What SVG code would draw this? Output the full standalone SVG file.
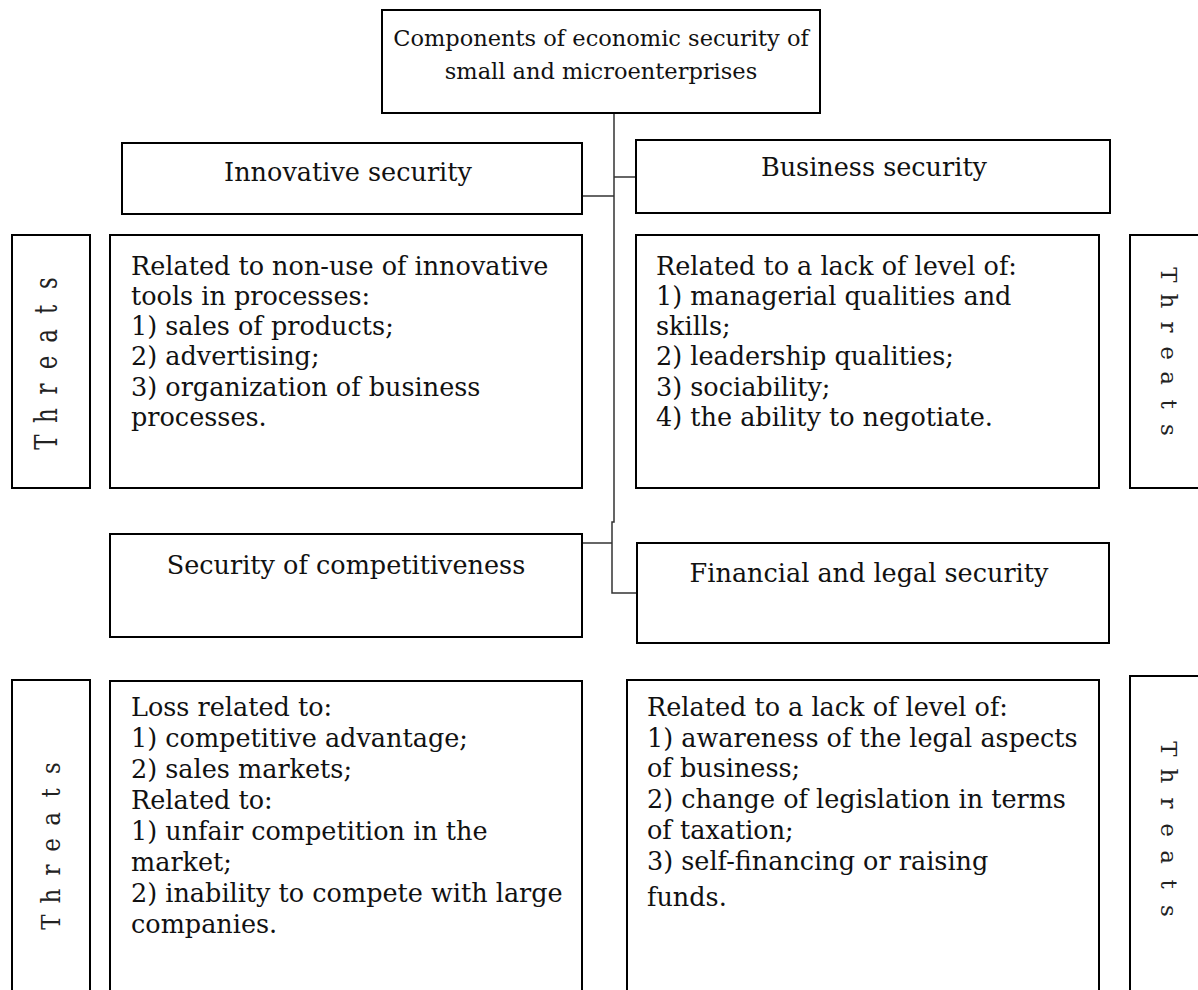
<svg xmlns="http://www.w3.org/2000/svg" width="1198" height="990" viewBox="0 0 1198 990">
<style>
.box{fill:#fff;stroke:#000;stroke-width:2}
.t{font-family:"DejaVu Serif","Liberation Serif",serif;font-size:25.5px;fill:#111}
.ti{font-family:"DejaVu Serif","Liberation Serif",serif;font-size:22.5px;fill:#111;text-anchor:middle}
.c{text-anchor:middle}
.th{font-family:"DejaVu Serif","Liberation Serif",serif;font-size:23px;fill:#222;text-anchor:middle}
.ln{stroke:#333;stroke-width:1.5;fill:none}
</style>
<rect width="1198" height="990" fill="#fff"/>
<g id="connectors">
<polyline class="ln" points="614,113 614,522 612,522 612,593 637,593"/>
<line class="ln" x1="614" y1="177" x2="637" y2="177"/>
<line class="ln" x1="582" y1="196" x2="614" y2="196"/>
<line class="ln" x1="582" y1="543" x2="612" y2="543"/>
</g>
<g id="root">
<rect class="box" x="382" y="10" width="438" height="103"/>
<text class="ti" x="601" y="46">Components of economic security of</text>
<text class="ti" x="601" y="79">small and microenterprises</text>
</g>
<g id="innovative">
<rect class="box" x="122" y="143" width="460" height="71"/>
<text class="t c" x="348" y="181">Innovative security</text>
</g>
<g id="business">
<rect class="box" x="636" y="140" width="474" height="73"/>
<text class="t c" x="874" y="176">Business security</text>
</g>
<g id="threats1">
<rect class="box" x="12" y="235" width="78" height="253"/>
<text class="th" transform="translate(57,0) rotate(-90) scale(1,1.35)" x="-442 -415.5 -389 -362.5 -336 -309.5 -283" y="0">Threats</text>
</g>
<g id="innovative-threats">
<rect class="box" x="110" y="235" width="472" height="253"/>
<text class="t" x="131" y="275">Related to non-use of innovative</text>
<text class="t" x="131" y="305">tools in processes:</text>
<text class="t" x="131" y="335">1) sales of products;</text>
<text class="t" x="131" y="365">2) advertising;</text>
<text class="t" x="131" y="396">3) organization of business</text>
<text class="t" x="131" y="426">processes.</text>
</g>
<g id="business-threats">
<rect class="box" x="636" y="235" width="463" height="253"/>
<text class="t" x="656" y="275">Related to a lack of level of:</text>
<text class="t" x="656" y="305">1) managerial qualities and</text>
<text class="t" x="656" y="335">skills;</text>
<text class="t" x="656" y="365">2) leadership qualities;</text>
<text class="t" x="656" y="396">3) sociability;</text>
<text class="t" x="656" y="426">4) the ability to negotiate.</text>
</g>
<g id="threats2">
<rect class="box" x="1130" y="235" width="80" height="253"/>
<text class="th" transform="translate(1161,0) rotate(90)" x="275 301 327 353 378 404 430" y="0">Threats</text>
</g>
<g id="competitiveness">
<rect class="box" x="110" y="534" width="472" height="103"/>
<text class="t c" x="346" y="574">Security of competitiveness</text>
</g>
<g id="financial">
<rect class="box" x="637" y="543" width="472" height="100"/>
<text class="t c" x="869" y="582">Financial and legal security</text>
</g>
<g id="threats3">
<rect class="box" x="12" y="680" width="78" height="320"/>
<text class="th" transform="translate(60,0) rotate(-90) scale(1,1.15)" x="-922 -896 -870 -845 -819 -793 -768" y="0">Threats</text>
</g>
<g id="competitiveness-threats">
<rect class="box" x="110" y="681" width="472" height="320"/>
<text class="t" x="131" y="716">Loss related to:</text>
<text class="t" x="131" y="747">1) competitive advantage;</text>
<text class="t" x="131" y="778">2) sales markets;</text>
<text class="t" x="131" y="809">Related to:</text>
<text class="t" x="131" y="840">1) unfair competition in the</text>
<text class="t" x="131" y="871">market;</text>
<text class="t" x="131" y="902">2) inability to compete with large</text>
<text class="t" x="131" y="933">companies.</text>
</g>
<g id="financial-threats">
<rect class="box" x="627" y="680" width="472" height="320"/>
<text class="t" x="647" y="716">Related to a lack of level of:</text>
<text class="t" x="647" y="747">1) awareness of the legal aspects</text>
<text class="t" x="647" y="777">of business;</text>
<text class="t" x="647" y="808">2) change of legislation in terms</text>
<text class="t" x="647" y="839">of taxation;</text>
<text class="t" x="647" y="870">3) self-financing or raising</text>
<text class="t" x="647" y="906">funds.</text>
</g>
<g id="threats4">
<rect class="box" x="1130" y="676" width="80" height="330"/>
<text class="th" transform="translate(1161,0) rotate(90)" x="749 776 803 830 857 884 911" y="0">Threats</text>
</g>
</svg>
